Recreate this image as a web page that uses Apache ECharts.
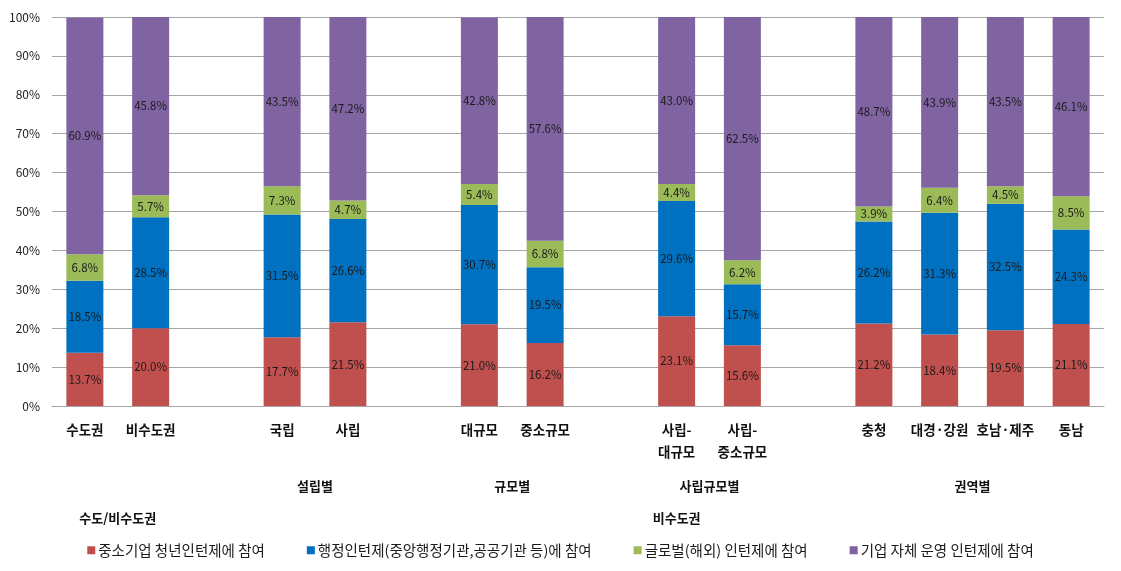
<!DOCTYPE html>
<html>
<head>
<meta charset="utf-8">
<script src="https://cdn.jsdelivr.net/npm/echarts@6/dist/echarts.min.js"></script>
<style>
html,body{margin:0;padding:0;background:#fff;}
#chart{width:1121px;height:571px;}
</style>
</head>
<body>
<div id="chart"></div>
<script>
// Categories (empty strings are the gaps between groups)
const categories = ['수도권','비수도권','','국립','사립','','대규모','중소규모','','사립-\n대규모','사립-\n중소규모','','충청','대경·강원','호남·제주','동남'];
const seriesNames = ['중소기업 청년인턴제에 참여','행정인턴제(중앙행정기관,공공기관 등)에 참여','글로벌(해외) 인턴제에 참여','기업 자체 운영 인턴제에 참여'];
const smeIntern    = [13.7, 20.0, null, 17.7, 21.5, null, 21.0, 16.2, null, 23.1, 15.6, null, 21.2, 18.4, 19.5, 21.1];
const adminIntern  = [18.5, 28.5, null, 31.5, 26.6, null, 30.7, 19.5, null, 29.6, 15.7, null, 26.2, 31.3, 32.5, 24.3];
const globalIntern = [ 6.8,  5.7, null,  7.3,  4.7, null,  5.4,  6.8, null,  4.4,  6.2, null,  3.9,  6.4,  4.5,  8.5];
const ownIntern    = [60.9, 45.8, null, 43.5, 47.2, null, 42.8, 57.6, null, 43.0, 62.5, null, 48.7, 43.9, 43.5, 46.1];
// Group labels (second and third level of the category axis): [label, first category, last category]
const level2Groups = [['설립별','국립','사립'],['규모별','대규모','중소규모'],['사립규모별','사립-\n대규모','사립-\n중소규모'],['권역별','충청','동남']];
const level3Groups = [['수도/비수도권','수도권','비수도권'],['비수도권','국립','동남']];

const colors = ['#C0504D','#0070C0','#9BBB59','#8064A2'];
const FONT = '"Noto Sans CJK KR", "Noto Sans", sans-serif';
const dataSets = [smeIntern, adminIntern, globalIntern, ownIntern];

const chart = echarts.init(document.getElementById('chart'));
chart.setOption({
  animation: false,
  textStyle: {fontFamily: FONT},
  grid: {left: 52, right: 17, top: 17, bottom: 165, containLabel: false},
  legend: {
    data: seriesNames,
    left: 'center',
    top: 538,
    icon: 'rect',
    itemWidth: 8,
    itemHeight: 8,
    itemGap: 42,
    textStyle: {fontFamily: FONT, fontSize: 14.5, color: '#1a1a1a', padding: [0, 0, 0, -2]}
  },
  xAxis: {
    type: 'category',
    data: categories,
    axisLine: {lineStyle: {color: '#A6A6A6', width: 1}},
    axisTick: {show: false},
    axisLabel: {interval: 0, margin: 13, fontSize: 13.5, fontWeight: 'bold', color: '#111', lineHeight: 22, fontFamily: FONT}
  },
  yAxis: {
    type: 'value',
    min: 0, max: 100, interval: 10,
    axisLine: {show: false},
    axisTick: {show: false},
    splitLine: {lineStyle: {color: '#A6A6A6', width: 1}},
    axisLabel: {formatter: '{value}%', fontSize: 12, color: '#222', margin: 12, fontFamily: FONT}
  },
  series: dataSets.map((d, i) => ({
    name: seriesNames[i],
    type: 'bar',
    stack: 'total',
    barWidth: 37,
    data: d,
    itemStyle: {color: colors[i]},
    label: {
      show: true,
      position: 'inside',
      fontSize: 11.5,
      color: '#1a1a1a',
      fontFamily: FONT,
      formatter: p => (p.value == null ? '' : p.value.toFixed(1) + '%')
    }
  }))
});

function centerOf(a, b) {
  const x1 = chart.convertToPixel({xAxisIndex: 0}, a);
  const x2 = chart.convertToPixel({xAxisIndex: 0}, b);
  return (x1 + x2) / 2;
}
const graphics = [];
level2Groups.forEach(g => graphics.push({
  type: 'text', x: centerOf(g[1], g[2]), y: 486,
  style: {text: g[0], font: 'bold 13px ' + FONT, fill: '#111', textAlign: 'center', textVerticalAlign: 'middle'}
}));
level3Groups.forEach(g => graphics.push({
  type: 'text', x: centerOf(g[1], g[2]), y: 518,
  style: {text: g[0], font: 'bold 13px ' + FONT, fill: '#111', textAlign: 'center', textVerticalAlign: 'middle'}
}));
chart.setOption({graphic: graphics});
</script>
</body>
</html>
